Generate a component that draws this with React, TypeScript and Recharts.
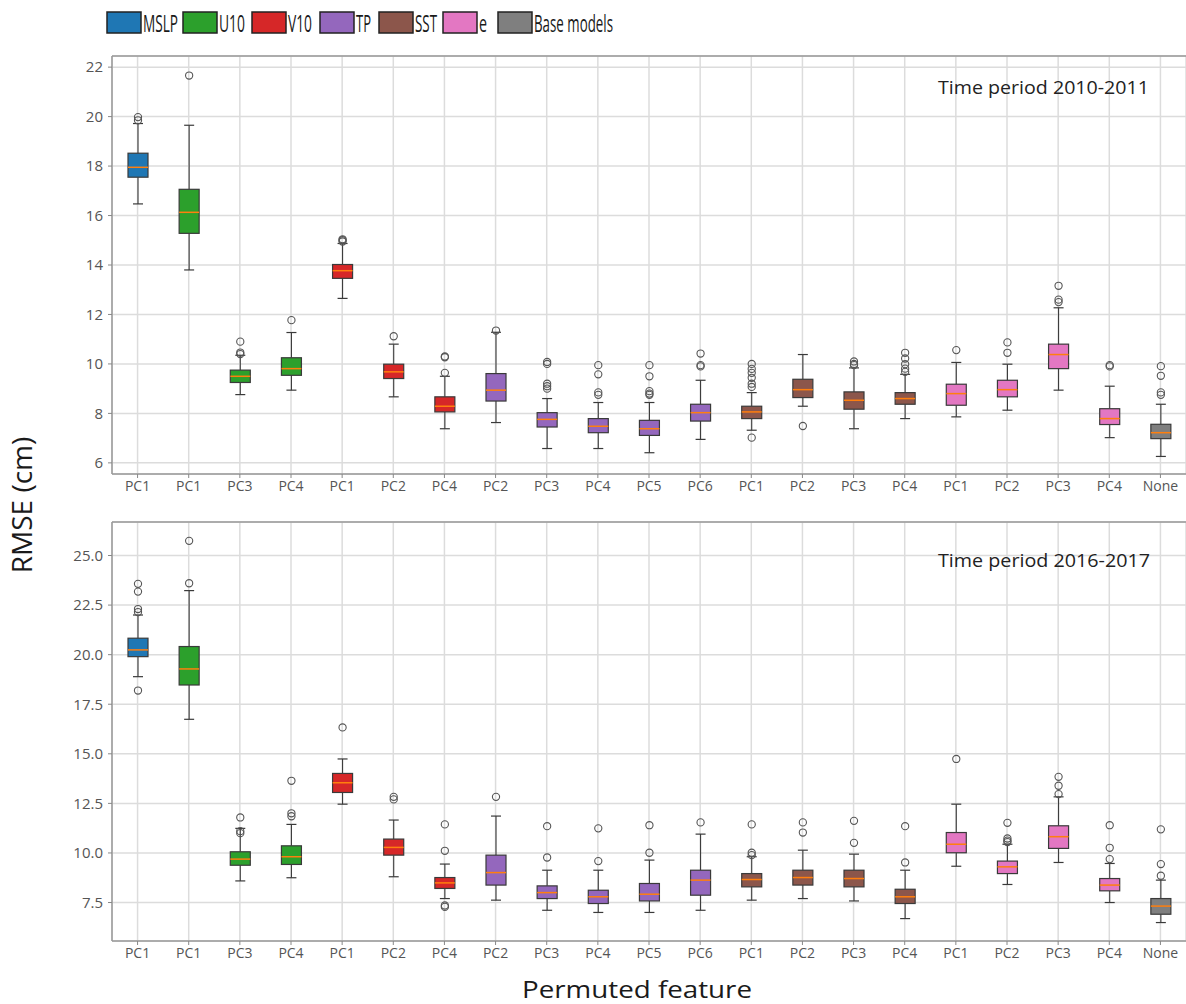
import React from 'react';
import { ComposedChart, Bar, XAxis, YAxis, CartesianGrid, ReferenceLine } from 'recharts';

// ---------- categories ----------
const FEATURES = ['MSLP', 'U10', 'U10', 'U10', 'V10', 'V10', 'V10', 'TP', 'TP', 'TP', 'TP', 'TP', 'SST', 'SST', 'SST', 'SST', 'e', 'e', 'e', 'e', 'Base models'];
const LABELS = ['PC1', 'PC1', 'PC3', 'PC4', 'PC1', 'PC2', 'PC4', 'PC2', 'PC3', 'PC4', 'PC5', 'PC6', 'PC1', 'PC2', 'PC3', 'PC4', 'PC1', 'PC2', 'PC3', 'PC4', 'None'];
const LEGEND_NAMES = ['MSLP', 'U10', 'V10', 'TP', 'SST', 'e', 'Base models'];
const COLORS: Record<string, string> = {
  MSLP: '#1f77b4', U10: '#2ca02c', V10: '#d62728', TP: '#9467bd', SST: '#8c564b', e: '#e377c2', 'Base models': '#7f7f7f',
};

// ---------- panel 1: 2010-2011 ----------
const TOP_Q1 = [17.55, 15.28, 9.25, 9.54, 13.46, 9.41, 8.06, 8.5, 7.45, 7.22, 7.11, 7.69, 7.79, 8.64, 8.17, 8.37, 8.33, 8.67, 9.81, 7.55, 6.98];
const TOP_MED = [17.95, 16.13, 9.5, 9.81, 13.77, 9.68, 8.29, 8.94, 7.76, 7.48, 7.38, 8.03, 8.06, 8.96, 8.53, 8.6, 8.8, 8.96, 10.38, 7.79, 7.22];
const TOP_Q3 = [18.52, 17.06, 9.75, 10.25, 14.02, 9.99, 8.67, 9.61, 8.03, 7.79, 7.72, 8.37, 8.29, 9.38, 8.87, 8.84, 9.18, 9.34, 10.8, 8.19, 7.56];
const TOP_WLO = [16.47, 13.8, 8.76, 8.94, 12.65, 8.67, 7.38, 7.63, 6.58, 6.58, 6.41, 6.95, 7.32, 8.29, 7.38, 7.79, 7.86, 8.13, 8.94, 7.02, 6.26];
const TOP_WHI = [19.72, 19.65, 10.35, 11.27, 14.87, 10.8, 9.5, 11.28, 8.6, 8.44, 8.44, 9.34, 8.84, 10.38, 9.84, 9.58, 10.06, 9.99, 12.27, 9.1, 8.37];
const TOP_OUT = [
  [19.85, 19.98],
  [21.66],
  [10.4, 10.46, 10.9],
  [11.77],
  [14.95, 15.0, 15.04],
  [11.12],
  [9.64, 10.27, 10.3],
  [11.35],
  [9.0, 9.1, 9.2, 10.0, 10.08],
  [8.75, 8.85, 9.58, 9.95],
  [8.75, 8.8, 8.9, 9.5, 9.95],
  [9.9, 9.95, 10.42],
  [7.02, 9.07, 9.2, 9.44, 9.64, 9.8, 10.0],
  [7.49],
  [9.95, 10.0, 10.1],
  [9.68, 9.81, 9.99, 10.22, 10.45],
  [10.56],
  [10.45, 10.87],
  [12.5, 12.6, 13.16],
  [9.9, 9.95],
  [8.75, 8.85, 9.52, 9.91],
];
const TOP_TICKS = [6, 8, 10, 12, 14, 16, 18, 20, 22];
const TOP_DOMAIN = [5.55, 22.45];

// ---------- panel 2: 2016-2017 ----------
const BOT_Q1 = [19.9, 18.47, 9.38, 9.42, 13.05, 9.89, 8.21, 8.38, 7.7, 7.45, 7.58, 7.87, 8.29, 8.38, 8.29, 7.45, 10.01, 8.96, 10.23, 8.09, 6.91];
const BOT_MED = [20.24, 19.28, 9.69, 9.81, 13.54, 10.28, 8.49, 9.01, 8.0, 7.79, 7.92, 8.63, 8.66, 8.76, 8.71, 7.79, 10.44, 9.3, 10.82, 8.38, 7.32];
const BOT_Q3 = [20.83, 20.41, 10.06, 10.36, 14.01, 10.7, 8.76, 9.89, 8.34, 8.12, 8.46, 9.13, 8.96, 9.13, 9.13, 8.17, 11.03, 9.59, 11.37, 8.71, 7.7];
const BOT_WLO = [18.89, 16.74, 8.59, 8.75, 12.46, 8.8, 7.7, 7.62, 7.11, 7.0, 7.0, 7.11, 7.62, 7.7, 7.58, 6.69, 9.33, 8.41, 9.52, 7.5, 6.49];
const BOT_WHI = [22.0, 23.23, 11.24, 11.44, 14.74, 11.66, 9.44, 11.86, 9.13, 9.13, 9.64, 10.95, 9.81, 10.14, 9.94, 9.13, 12.46, 10.44, 12.83, 9.47, 8.63];
const BOT_OUT = [
  [18.19, 22.15, 22.3, 23.18, 23.57],
  [23.6, 25.74],
  [11.0, 11.1, 11.79],
  [11.85, 12.0, 13.64],
  [16.33],
  [12.7, 12.83],
  [7.28, 7.35, 10.11, 11.44],
  [12.83],
  [9.77, 11.35],
  [9.59, 11.24],
  [10.01, 11.4],
  [11.54],
  [9.89, 10.01, 11.44],
  [11.03, 11.54],
  [10.51, 11.62],
  [9.52, 11.35],
  [14.74],
  [10.55, 10.62, 10.73, 11.52],
  [12.97, 13.39, 13.84],
  [9.69, 10.26, 11.4],
  [8.85, 9.44, 11.19],
];
const BOT_TICKS = [7.5, 10, 12.5, 15, 17.5, 20, 22.5, 25];
const BOT_DOMAIN = [5.56, 26.69];

function buildRows(q1: number[], med: number[], q3: number[], wlo: number[], whi: number[], out: number[][]) {
  return LABELS.map((label, i) => ({
    id: String(i),
    label,
    feature: FEATURES[i],
    q1: q1[i], med: med[i], q3: q3[i], wlo: wlo[i], whi: whi[i], out: out[i],
    lo: Math.min(wlo[i], ...out[i]),
    hi: Math.max(whi[i], ...out[i]),
  }));
}

const TOP_ROWS = buildRows(TOP_Q1, TOP_MED, TOP_Q3, TOP_WLO, TOP_WHI, TOP_OUT);
const BOT_ROWS = buildRows(BOT_Q1, BOT_MED, BOT_Q3, BOT_WLO, BOT_WHI, BOT_OUT);

const FONT = '"Open Sans", "Noto Sans", sans-serif';

const BoxShape = (props: any) => {
  const { x, y, width, height, payload } = props;
  if (!payload) return null;
  const top = Math.min(y, y + height);
  const h = Math.abs(height);
  const span = payload.hi - payload.lo || 1;
  const py = (v: number) => top + ((payload.hi - v) / span) * h;
  const cx = x + width / 2;
  const cap = width / 4;
  const edge = '#3a3a3a';
  const yq1 = py(payload.q1);
  const yq3 = py(payload.q3);
  return (
    <g>
      <line x1={cx} x2={cx} y1={py(payload.whi)} y2={yq3} stroke={edge} strokeWidth={1.1} />
      <line x1={cx} x2={cx} y1={yq1} y2={py(payload.wlo)} stroke={edge} strokeWidth={1.1} />
      <line x1={cx - cap} x2={cx + cap} y1={py(payload.whi)} y2={py(payload.whi)} stroke={edge} strokeWidth={1.2} />
      <line x1={cx - cap} x2={cx + cap} y1={py(payload.wlo)} y2={py(payload.wlo)} stroke={edge} strokeWidth={1.2} />
      <rect x={x} y={yq3} width={width} height={yq1 - yq3} fill={COLORS[payload.feature]} stroke={edge} strokeWidth={1.2} />
      <line x1={x} x2={x + width} y1={py(payload.med)} y2={py(payload.med)} stroke="#ff7f0e" strokeWidth={1.5} />
      {payload.out.map((o: number, k: number) => (
        <circle key={k} cx={cx} cy={py(o)} r={3.6} fill="none" stroke="#555" strokeWidth={1.1} />
      ))}
    </g>
  );
};

function Panel(p: { rows: any[]; domain: number[]; ticks: number[]; fmt: (v: number) => string; top: number; height: number; mt: number; mb: number }) {
  return (
    <div style={{ position: 'absolute', left: 0, top: p.top, width: 1186, height: p.height }}>
      <ComposedChart width={1186} height={p.height} data={p.rows} margin={{ top: p.mt, right: 0, bottom: p.mb, left: 72 }}>
        <CartesianGrid stroke="#dcdcdc" strokeWidth={1.5} />
        <XAxis
          dataKey="id"
          type="category"
          interval={0}
          height={26}
          tickSize={4}
          tickMargin={3}
          tickFormatter={(v: any) => LABELS[Number(v)]}
          tick={{ fontSize: 14, fill: '#555', fontFamily: FONT }}
          axisLine={{ stroke: '#999', strokeWidth: 1.5 }}
          tickLine={{ stroke: '#888' }}
        />
        <YAxis
          type="number"
          domain={p.domain}
          ticks={p.ticks}
          allowDataOverflow
          width={40}
          tickSize={4}
          tickMargin={5}
          tickFormatter={p.fmt}
          tick={{ fontSize: 15, fill: '#555', fontFamily: FONT }}
          axisLine={{ stroke: '#999', strokeWidth: 1.5 }}
          tickLine={{ stroke: '#888' }}
        />
        <ReferenceLine y={p.domain[1]} stroke="#999" strokeWidth={1.5} ifOverflow="visible" />
        <Bar dataKey={(d: any) => [d.lo, d.hi]} barSize={20} shape={BoxShape} isAnimationActive={false} />
      </ComposedChart>
    </div>
  );
}

const LEGEND_TEXT_W = [35, 26, 24, 15, 22, 8, 79];
const LEGEND_GAP = [5, 7, 8, 8, 6, 11, 0];

function Overlay() {
  let cursor = 107;
  const items = LEGEND_NAMES.map((name, i) => {
    const bx = cursor;
    const tx = bx + 36;
    cursor = tx + LEGEND_TEXT_W[i] + LEGEND_GAP[i];
    return (
      <g key={name}>
        <rect x={bx} y={12} width={34} height={21} fill={COLORS[name]} stroke="#222" strokeWidth={1.5} />
        <text x={tx} y={32} fontSize={24} fontFamily={FONT} fill="#1a1a1a" textLength={LEGEND_TEXT_W[i]} lengthAdjust="spacingAndGlyphs">
          {name}
        </text>
      </g>
    );
  });
  return (
    <svg width={1186} height={1004} style={{ position: 'absolute', left: 0, top: 0, pointerEvents: 'none' }}>
      {items}
      <text x={938} y={94} fontSize={19} fontFamily={FONT} fill="#222" textLength={211} lengthAdjust="spacingAndGlyphs">Time period 2010-2011</text>
      <text x={938} y={567} fontSize={19} fontFamily={FONT} fill="#222" textLength={212} lengthAdjust="spacingAndGlyphs">Time period 2016-2017</text>
      <text x={0} y={0} transform="translate(32,505) rotate(-90)" textAnchor="middle" fontSize={28} fontFamily={FONT} fill="#1a1a1a">RMSE (cm)</text>
      <text x={637} y={998} textAnchor="middle" fontSize={23} fontFamily={FONT} fill="#1a1a1a" textLength={230} lengthAdjust="spacingAndGlyphs">Permuted feature</text>
    </svg>
  );
}

export default function App() {
  return (
    <div style={{ position: 'absolute', left: 0, top: 0, width: 1186, height: 1004, background: '#fff', overflow: 'hidden', fontFamily: FONT }}>
      <Panel rows={TOP_ROWS} domain={TOP_DOMAIN} ticks={TOP_TICKS} fmt={(v) => String(v)} top={0} height={500} mt={56} mb={0} />
      <Panel rows={BOT_ROWS} domain={BOT_DOMAIN} ticks={BOT_TICKS} fmt={(v) => v.toFixed(1)} top={500} height={504} mt={22} mb={37} />
      <Overlay />
    </div>
  );
}
